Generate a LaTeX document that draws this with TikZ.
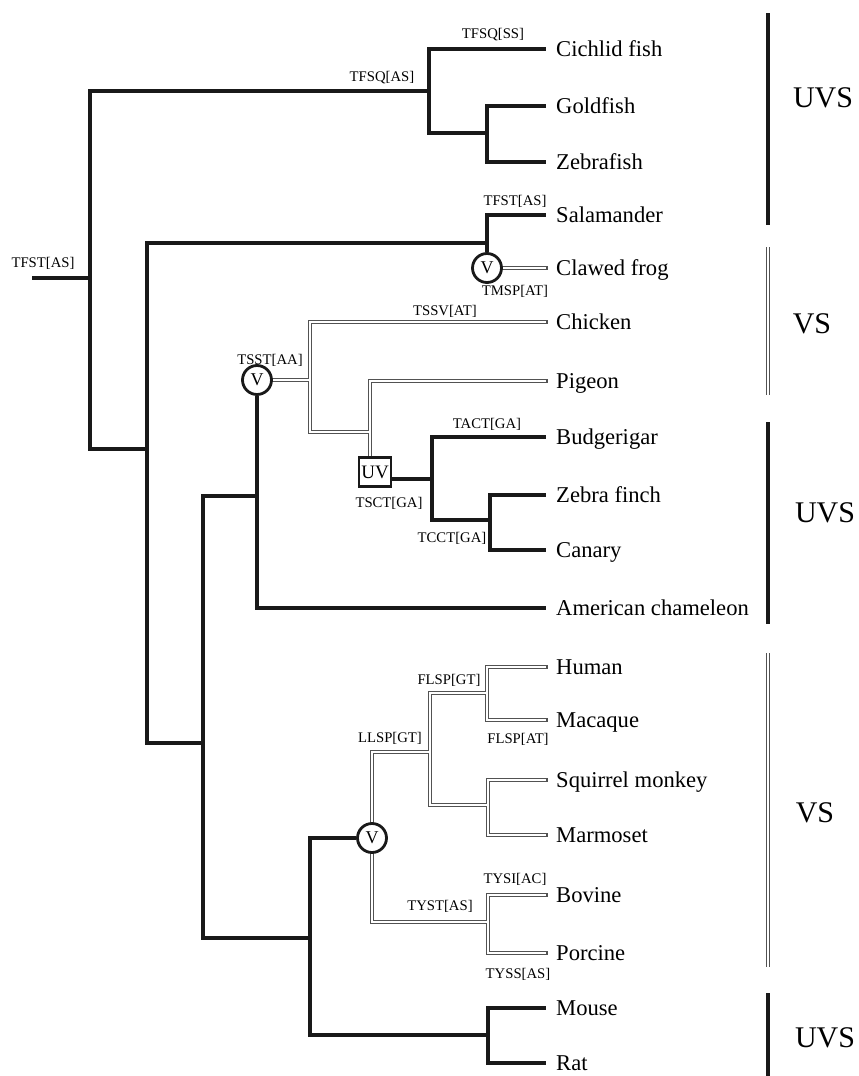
\documentclass[tikz,border=0pt]{standalone}
\usepackage{fontspec}
\setmainfont{Liberation Serif}
\usetikzlibrary{backgrounds}
\begin{document}
\begin{tikzpicture}[x=1pt,y=-1pt,
  tline/.style={line width=3.4pt, draw=black!90, line join=miter},
  dout/.style={line width=3.8pt, draw=black!68, line cap=rect},
  din/.style={line width=1.6pt, draw=white, line cap=butt},
  leaf/.style={anchor=west, inner xsep=10pt, inner ysep=0pt, text height=15pt, text depth=0pt, font=\fontsize{22.6}{26}\selectfont},
  mut/.style={inner sep=0pt, text height=10pt, text depth=0pt, font=\fontsize{14.7}{17}\selectfont},
  vcirc/.style={circle, draw=black!90, line width=2.8pt, fill=white, minimum size=29pt, inner sep=0pt, font=\fontsize{18}{20}\selectfont},
  uvbox/.style={rectangle, draw=black!90, line width=2.5pt, fill=white, minimum width=32pt, minimum height=29pt, inner sep=0pt, font=\fontsize{19}{21}\selectfont},
  grp/.style={inner sep=0pt, text height=20pt, text depth=0pt, font=\fontsize{30}{34}\selectfont},
  gbar/.style={line width=4.4pt, draw=black!90},
  gvout/.style={line width=3.4pt, draw=black!68},
  gvin/.style={line width=1.4pt, draw=white}
]
\useasboundingbox (0,0) rectangle (859,1076);

% internal nodes
\coordinate (root0) at (32,278);
\coordinate (root) at (90,278);
\coordinate (fish) at (429,91);
\coordinate (gz) at (487,133);
\coordinate (tet) at (147,449);
\coordinate (amph) at (487,243);
\node[vcirc] (vfrog) at (487,268) {V};
\coordinate (amn) at (203,743);
\coordinate (saur) at (257,496);
\node[vcirc] (vsaur) at (257,380) {V};
\coordinate (birds) at (310,380);
\coordinate (pg) at (370,432);
\node[uvbox] (uv) at (375,472) {UV};
\coordinate (cb) at (432,479);
\coordinate (zc) at (490,520);
\coordinate (mam) at (310,938);
\node[vcirc] (vmam) at (372,838) {V};
\coordinate (pr) at (430,752);
\coordinate (hm) at (487,693);
\coordinate (sm) at (488,805);
\coordinate (bp) at (488,922);
\coordinate (mr) at (488,1035);

% leaves
\node[leaf] (cichlid) at (546,49) {Cichlid fish};
\node[leaf] (goldfish) at (546,106) {Goldfish};
\node[leaf] (zebrafish) at (546,162) {Zebrafish};
\node[leaf] (salamander) at (546,215) {Salamander};
\node[leaf] (frog) at (546,268) {Clawed frog};
\node[leaf] (chicken) at (546,322) {Chicken};
\node[leaf] (pigeon) at (546,381) {Pigeon};
\node[leaf] (budgie) at (546,437) {Budgerigar};
\node[leaf] (zfinch) at (546,495) {Zebra finch};
\node[leaf] (canary) at (546,550) {Canary};
\node[leaf] (chameleon) at (546,608) {American chameleon};
\node[leaf] (human) at (546,667) {Human};
\node[leaf] (macaque) at (546,720) {Macaque};
\node[leaf] (squirrel) at (546,780) {Squirrel monkey};
\node[leaf] (marmoset) at (546,835) {Marmoset};
\node[leaf] (bovine) at (546,895) {Bovine};
\node[leaf] (porcine) at (546,953) {Porcine};
\node[leaf] (mouse) at (546,1008) {Mouse};
\node[leaf] (rat) at (546,1063) {Rat};

% substitution labels
\node[mut] (m1) at (43,262) {TFST[AS]};
\node[mut] (m2) at (382,76) {TFSQ[AS]};
\node[mut] (m3) at (493,33) {TFSQ[SS]};
\node[mut] (m4) at (515,200) {TFST[AS]};
\node[mut] (m5) at (515,290) {TMSP[AT]};
\node[mut] (m6) at (445,310) {TSSV[AT]};
\node[mut] (m7) at (270,359) {TSST[AA]};
\node[mut] (m8) at (487,423) {TACT[GA]};
\node[mut] (m9) at (389,502) {TSCT[GA]};
\node[mut] (m10) at (452,537) {TCCT[GA]};
\node[mut] (m11) at (449,679) {FLSP[GT]};
\node[mut] (m12) at (390,737) {LLSP[GT]};
\node[mut] (m13) at (518,738) {FLSP[AT]};
\node[mut] (m14) at (515,878) {TYSI[AC]};
\node[mut] (m15) at (440,905) {TYST[AS]};
\node[mut] (m16) at (518,973) {TYSS[AS]};

% group labels
\node[grp] (g1) at (823,97) {UVS};
\node[grp] (g2) at (812,323) {VS};
\node[grp] (g3) at (825,512) {UVS};
\node[grp] (g4) at (815,812) {VS};
\node[grp] (g5) at (825,1037) {UVS};

\newcommand{\DblPaths}[1]{%
  \draw[#1] (vfrog.east) -- (frog.west);
  \draw[#1] (vsaur.east) -- (birds);
  \draw[#1] (birds) |- (chicken.west);
  \draw[#1] (birds) |- (pg);
  \draw[#1] (pg) |- (pigeon.west);
  \draw[#1] (pg) -- (pg |- uv.north);
  \draw[#1] (vmam.north) |- (pr);
  \draw[#1] (pr) |- (hm);
  \draw[#1] (hm) |- (human.west);
  \draw[#1] (hm) |- (macaque.west);
  \draw[#1] (pr) |- (sm);
  \draw[#1] (sm) |- (squirrel.west);
  \draw[#1] (sm) |- (marmoset.west);
  \draw[#1] (vmam.south) |- (bp);
  \draw[#1] (bp) |- (bovine.west);
  \draw[#1] (bp) |- (porcine.west);
}

\begin{scope}[on background layer]
  % thick (UV) branches
  \draw[tline] (root0) -- (root);
  \draw[tline] (root) |- (fish);
  \draw[tline] (fish) |- (cichlid.west);
  \draw[tline] (fish) |- (gz);
  \draw[tline] (gz) |- (goldfish.west);
  \draw[tline] (gz) |- (zebrafish.west);
  \draw[tline] (root) |- (tet);
  \draw[tline] (tet) |- (amph);
  \draw[tline] (amph) |- (salamander.west);
  \draw[tline] (amph) -- (vfrog.north);
  \draw[tline] (tet) |- (amn);
  \draw[tline] (amn) |- (saur);
  \draw[tline] (amn) |- (mam);
  \draw[tline] (saur) -- (vsaur.south);
  \draw[tline] (saur) |- (chameleon.west);
  \draw[tline] (uv.east |- cb) -- (cb);
  \draw[tline] (cb) |- (budgie.west);
  \draw[tline] (cb) |- (zc);
  \draw[tline] (zc) |- (zfinch.west);
  \draw[tline] (zc) |- (canary.west);
  \draw[tline] (mam) |- (vmam.west);
  \draw[tline] (mam) |- (mr);
  \draw[tline] (mr) |- (mouse.west);
  \draw[tline] (mr) |- (rat.west);
  % double (violet) branches
  \DblPaths{dout}
  \DblPaths{din}
\end{scope}

% group bars
\coordinate (b1t) at (768,13);  \coordinate (b1b) at (768,225);
\coordinate (b2t) at (768,247); \coordinate (b2b) at (768,395);
\coordinate (b3t) at (768,422); \coordinate (b3b) at (768,624);
\coordinate (b4t) at (768,653); \coordinate (b4b) at (768,967);
\coordinate (b5t) at (768,993); \coordinate (b5b) at (768,1076);
\draw[gbar] (b1t) -- (b1b);
\draw[gbar] (b3t) -- (b3b);
\draw[gbar] (b5t) -- (b5b);
\draw[gvout] (b2t) -- (b2b);
\draw[gvout] (b4t) -- (b4b);
\draw[gvin] ([yshift=1pt]b2t) -- ([yshift=-1pt]b2b);
\draw[gvin] ([yshift=1pt]b4t) -- ([yshift=-1pt]b4b);
\end{tikzpicture}
\end{document}
